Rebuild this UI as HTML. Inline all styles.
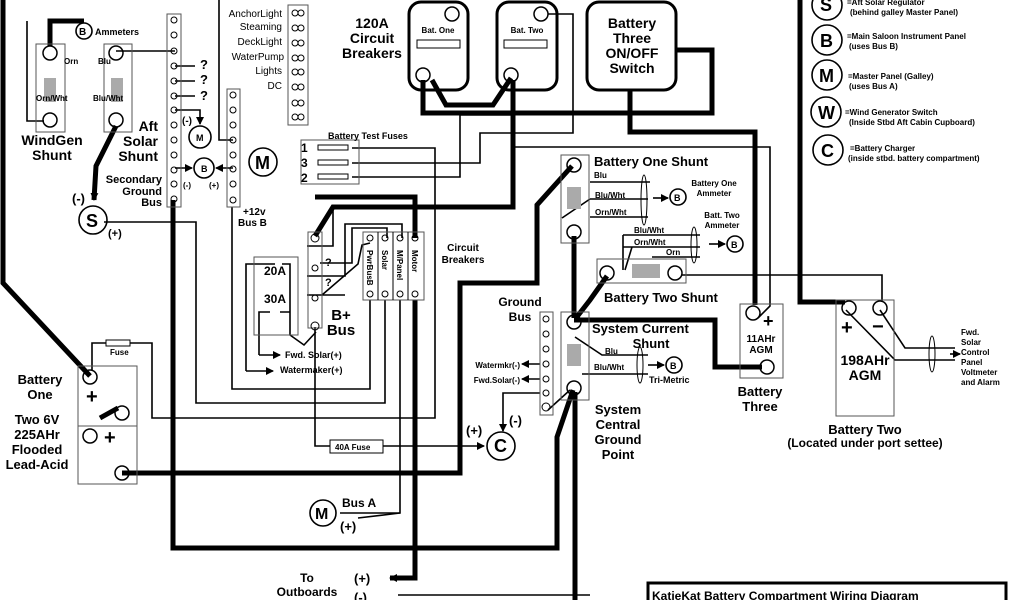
<!DOCTYPE html>
<html><head><meta charset="utf-8"><style>
html,body{margin:0;padding:0;background:#fff;width:1024px;height:600px;overflow:hidden}
svg{display:block}
text{font-family:"Liberation Sans",sans-serif;fill:#000}
.b{font-weight:bold}
</style></head><body>
<svg width="1024" height="600" viewBox="0 0 1024 600" xmlns="http://www.w3.org/2000/svg">
<defs>
<marker id="ar" markerWidth="8" markerHeight="8" refX="7" refY="4" orient="auto" markerUnits="userSpaceOnUse"><path d="M0,0 L8,4 L0,8 z" fill="#000"/></marker>
</defs>
<g fill="none" stroke="#000" stroke-linejoin="miter">
<g stroke-width="5">
<path d="M3,0 L3,283 L90,376"/>
<path d="M50,46 L50,21 L84,21"/>
<path d="M116,126 L96,166 L94,200" marker-end="url(#ar)"/>
<path d="M173,200 L173,548 L557,548 L557,437 L573,390"/>
<path d="M122,473 L460,473 L460,283 L537,283 L537,205 L572,166"/>
<path d="M423,80 L423,113 L712,113 L712,50 L676,50"/>
<path d="M432,80 L446,105 L493,105 L511,78"/>
<path d="M513,80 L513,207 L333,207 L315,236"/>
<path d="M315,197 L415,197 L415,238"/>
<path d="M630,90 L630,132 L755,132 L755,305"/>
<path d="M415,300 L415,578 L390,578" marker-end="url(#ar)"/>
<path d="M574,236 L574,318"/>
<path d="M607,276 L590,300 L576,318"/>
<path d="M574,320 L715,320 L715,367 L762,367"/>
<path d="M575,392 L575,600"/>
<path d="M800,0 L800,302 L845,302"/>
<path d="M100,418 L118,408"/>
</g>
<g stroke-width="1.6">
<path d="M27,21 L27,121 L44,121"/>
<path d="M116,51 L175,51"/>
<path d="M104,222 L196,222 L196,403 L385,403 L385,300"/>
<path d="M232,207 L232,389 L370,389 L370,300"/>
<path d="M400,300 L400,513 L340,513"/>
<path d="M315,327 L315,446 L330,446"/>
<path d="M383,446 L484,446" marker-end="url(#ar)"/>
<path d="M92,370 L92,343 L106,343 M130,343 L152,343 L152,418 L435,418 L435,148 L352,148"/>
<path d="M352,163 L480,163 L480,133 L573,133 L573,14 L548,14"/>
<path d="M352,177 L460,177 L460,115 L513,115"/>
<path d="M512,147 L770,147 L770,306 L758,318"/>
<path d="M219,0 L219,140 L233,140"/>
<path d="M175,110 L200,110 L200,124" marker-end="url(#ar)"/>
<path d="M175,168 L192,168" marker-end="url(#ar)"/>
<path d="M233,168 L216,168" marker-end="url(#ar)"/>
<path d="M175,66 L195,66 M175,81 L195,81 M175,96 L195,96"/>
<path d="M682,275 L882,275 L882,302"/>
<path d="M846,310 L895,360 L955,360 M880,310 L905,348 L955,348"/>
<path d="M950,354 L960,354" marker-end="url(#ar)"/>
<path d="M307,246 L333,246 L333,207 M307,276 L345,276 L345,224 L402,224 L402,238 M307,295 L345,295"/>
<path d="M320,263 L352,263 L352,228 L387,228 L387,238"/>
<path d="M322,295 L358,264 L362,245 L370,243"/>
<path d="M246,371 L246,264 L275,264 M282,264 L290,264 L290,335 L304,345 L316,332"/>
<path d="M259,355 L259,312 L270,312 M280,312 L290,312"/>
<path d="M259,355 L280,355" marker-end="url(#ar)"/>
<path d="M246,371 L273,371" marker-end="url(#ar)"/>
<path d="M540,364 L522,364" marker-end="url(#ar)"/>
<path d="M540,379 L522,379" marker-end="url(#ar)"/>
<path d="M540,393 L503,393 L503,431" marker-end="url(#ar)"/>
<path d="M548,410 L570,390"/>
<path d="M590,182 L650,182 M590,199 L648,199 M590,217 L648,217 M562,218 L590,199"/>
<path d="M623,235 L700,235 M623,247 L700,247 M652,257 L700,257 M623,235 L623,270 M632,247 L625,270"/>
<path d="M653,198 L668,198" marker-end="url(#ar)"/>
<path d="M709,244 L725,244" marker-end="url(#ar)"/>
<path d="M575,337 L602,355 L648,355 M582,374 L648,374"/>
<path d="M648,365 L664,365" marker-end="url(#ar)"/>
<path d="M398,595 L590,595"/>
<path d="M358,518 L400,513"/>
</g>
<g stroke-width="1"><ellipse cx="644" cy="200" rx="3" ry="25"/><ellipse cx="694" cy="245" rx="3" ry="18"/><ellipse cx="640" cy="365" rx="3" ry="18"/><ellipse cx="932" cy="354" rx="3" ry="18"/></g>
<g stroke-width="1" stroke="#555">
<rect x="36" y="44" width="29" height="88"/><rect x="104" y="44" width="28" height="88"/>
<rect x="167" y="14" width="14" height="193"/><rect x="227" y="89" width="13" height="118"/>
<rect x="288" y="5" width="20" height="120"/><rect x="301" y="140" width="58" height="44"/>
<rect x="308" y="232" width="14" height="96"/><rect x="363" y="232" width="61" height="68"/>
<rect x="254" y="257" width="44" height="78"/>
<rect x="78" y="366" width="59" height="118"/><line x1="78" y1="426" x2="137" y2="426"/>
<rect x="561" y="155" width="28" height="88"/><rect x="597" y="259" width="89" height="24"/>
<rect x="540" y="312" width="13" height="103"/><rect x="561" y="312" width="28" height="88"/>
<rect x="740" y="304" width="43" height="74"/><rect x="836" y="300" width="58" height="116"/>
</g>
<g stroke-width="1"><line x1="378" y1="232" x2="378" y2="300"/><line x1="393" y1="232" x2="393" y2="300"/><line x1="408" y1="232" x2="408" y2="300"/>
<rect x="330" y="440" width="53" height="13"/><rect x="106" y="340" width="24" height="6"/>
<rect x="417" y="40" width="43" height="8"/><rect x="504" y="40" width="43" height="8"/></g>
<g stroke-width="3"><rect x="409" y="2" width="59" height="88" rx="12"/><rect x="497" y="2" width="60" height="88" rx="12"/><rect x="587" y="2" width="89" height="88" rx="12"/>
<rect x="648" y="583" width="358" height="20"/></g>
<g fill="#aaa" stroke="none"><rect x="44" y="78" width="12" height="24"/><rect x="111" y="78" width="12" height="24"/><rect x="567" y="187" width="14" height="22"/><rect x="567" y="344" width="14" height="22"/><rect x="632" y="264" width="28" height="14"/></g>
<g stroke-width="1.5">
<circle cx="50" cy="53" r="7"/><circle cx="50" cy="120" r="7"/><circle cx="116" cy="53" r="7"/><circle cx="116" cy="120" r="7"/>
<circle cx="452" cy="14" r="7"/><circle cx="423" cy="75" r="7"/><circle cx="541" cy="14" r="7"/><circle cx="511" cy="75" r="7"/>
<circle cx="90" cy="377" r="7"/><circle cx="122" cy="413" r="7"/><circle cx="90" cy="436" r="7"/><circle cx="122" cy="473" r="7"/>
<circle cx="574" cy="165" r="7"/><circle cx="574" cy="232" r="7"/><circle cx="607" cy="273" r="7"/><circle cx="675" cy="273" r="7"/>
<circle cx="574" cy="322" r="7"/><circle cx="574" cy="388" r="7"/><circle cx="753" cy="313" r="7"/><circle cx="767" cy="367" r="7"/>
<circle cx="849" cy="308" r="7"/><circle cx="880" cy="308" r="7"/>
</g>
<g stroke-width="1.6">
<circle cx="200" cy="137" r="11"/><circle cx="204" cy="168" r="10"/><circle cx="84" cy="31" r="8"/>
<circle cx="93" cy="220" r="14"/><circle cx="263" cy="162" r="14"/><circle cx="501" cy="446" r="14"/><circle cx="323" cy="513" r="13"/>
<circle cx="678" cy="197" r="8"/><circle cx="735" cy="244" r="8"/><circle cx="674" cy="365" r="8"/>
<circle cx="827" cy="5" r="15"/><circle cx="827" cy="40" r="15"/><circle cx="827" cy="75" r="15"/><circle cx="826" cy="112" r="15"/><circle cx="828" cy="150" r="15"/>
</g>
<g stroke-width="1">
<circle cx="174" cy="20" r="3"/><circle cx="174" cy="35" r="3"/><circle cx="174" cy="51" r="3"/><circle cx="174" cy="66" r="3"/><circle cx="174" cy="81" r="3"/><circle cx="174" cy="96" r="3"/><circle cx="174" cy="110" r="3"/><circle cx="174" cy="125" r="3"/><circle cx="174" cy="140" r="3"/><circle cx="174" cy="155" r="3"/><circle cx="174" cy="170" r="3"/><circle cx="174" cy="184" r="3"/><circle cx="174" cy="199" r="3"/>
<circle cx="233" cy="95" r="3"/><circle cx="233" cy="110" r="3"/><circle cx="233" cy="125" r="3"/><circle cx="233" cy="140" r="3"/><circle cx="233" cy="155" r="3"/><circle cx="233" cy="169" r="3"/><circle cx="233" cy="184" r="3"/><circle cx="233" cy="200" r="3"/>
<circle cx="295" cy="13" r="3"/><circle cx="301" cy="13" r="3"/><circle cx="295" cy="28" r="3"/><circle cx="301" cy="28" r="3"/><circle cx="295" cy="43" r="3"/><circle cx="301" cy="43" r="3"/><circle cx="295" cy="58" r="3"/><circle cx="301" cy="58" r="3"/><circle cx="295" cy="72" r="3"/><circle cx="301" cy="72" r="3"/><circle cx="295" cy="87" r="3"/><circle cx="301" cy="87" r="3"/><circle cx="295" cy="103" r="3"/><circle cx="301" cy="103" r="3"/><circle cx="295" cy="117" r="3"/><circle cx="301" cy="117" r="3"/>
<circle cx="315" cy="238" r="4"/><circle cx="315" cy="268" r="3"/><circle cx="315" cy="298" r="3"/><circle cx="315" cy="326" r="4"/>
<circle cx="370" cy="238" r="3"/><circle cx="385" cy="238" r="3"/><circle cx="400" cy="238" r="3"/><circle cx="415" cy="238" r="3"/><circle cx="370" cy="294" r="3"/><circle cx="385" cy="294" r="3"/><circle cx="400" cy="294" r="3"/><circle cx="415" cy="294" r="3"/>
<circle cx="546" cy="319" r="3"/><circle cx="546" cy="334" r="3"/><circle cx="546" cy="349" r="3"/><circle cx="546" cy="364" r="3"/><circle cx="546" cy="379" r="3"/><circle cx="546" cy="393" r="3"/><circle cx="546" cy="407" r="4"/>
<rect x="318" y="145" width="30" height="5"/><rect x="318" y="160" width="30" height="5"/><rect x="318" y="174" width="30" height="5"/>
</g>
</g>
<g class="b">
<text x="52" y="145" font-size="14" text-anchor="middle">WindGen</text><text x="52" y="160" font-size="14" text-anchor="middle">Shunt</text>
<text x="158" y="131" font-size="14" text-anchor="end">Aft</text><text x="158" y="146" font-size="14" text-anchor="end">Solar</text><text x="158" y="161" font-size="14" text-anchor="end">Shunt</text>
<text x="162" y="183" font-size="11" text-anchor="end">Secondary</text><text x="162" y="195" font-size="11" text-anchor="end">Ground</text><text x="162" y="206" font-size="11" text-anchor="end">Bus</text>
<text x="95" y="35" font-size="9">Ammeters</text>
<text x="79" y="35" font-size="10">B</text>
<text x="200" y="69" font-size="13">?</text><text x="200" y="84" font-size="13">?</text><text x="200" y="100" font-size="13">?</text>
<text x="182" y="124" font-size="10">(-)</text><text x="183" y="188" font-size="8">(-)</text><text x="209" y="188" font-size="8">(+)</text>
<text x="196" y="141" font-size="9">M</text><text x="201" y="172" font-size="9">B</text>
<text x="72" y="203" font-size="13">(-)</text><text x="108" y="237" font-size="11">(+)</text><text x="86" y="227" font-size="18">S</text>
<text x="243" y="215" font-size="10">+12v</text><text x="238" y="226" font-size="10">Bus B</text>
<text x="372" y="28" font-size="14" text-anchor="middle">120A</text><text x="372" y="43" font-size="14" text-anchor="middle">Circuit</text><text x="372" y="58" font-size="14" text-anchor="middle">Breakers</text>
<text x="632" y="28" font-size="14" text-anchor="middle">Battery</text><text x="632" y="43" font-size="14" text-anchor="middle">Three</text><text x="632" y="58" font-size="14" text-anchor="middle">ON/OFF</text><text x="632" y="73" font-size="14" text-anchor="middle">Switch</text>
<text x="328" y="139" font-size="9">Battery Test Fuses</text>
<text x="255" y="169" font-size="18">M</text>
<text x="301" y="152" font-size="12">1</text><text x="301" y="167" font-size="12">3</text><text x="301" y="182" font-size="12">2</text>
<text x="463" y="251" font-size="10" text-anchor="middle">Circuit</text><text x="463" y="263" font-size="10" text-anchor="middle">Breakers</text>
<text x="325" y="266" font-size="11">?</text><text x="325" y="286" font-size="11">?</text>
<text x="341" y="320" font-size="15" text-anchor="middle">B+</text><text x="341" y="335" font-size="15" text-anchor="middle">Bus</text>
<text x="275" y="275" font-size="12" text-anchor="middle">20A</text><text x="275" y="303" font-size="12" text-anchor="middle">30A</text>
<text x="285" y="358" font-size="9">Fwd. Solar(+)</text><text x="280" y="373" font-size="9">Watermaker(+)</text>
<text x="520" y="306" font-size="12" text-anchor="middle">Ground</text><text x="520" y="321" font-size="12" text-anchor="middle">Bus</text>
<text x="520" y="368" font-size="8" text-anchor="end">Watermkr(-)</text><text x="520" y="383" font-size="8" text-anchor="end">Fwd.Solar(-)</text>
<text x="494" y="452" font-size="18">C</text><text x="466" y="435" font-size="13">(+)</text><text x="509" y="425" font-size="13">(-)</text>
<text x="335" y="450" font-size="8">40A Fuse</text><text x="110" y="355" font-size="8">Fuse</text>
<text x="40" y="384" font-size="13" text-anchor="middle">Battery</text><text x="40" y="399" font-size="13" text-anchor="middle">One</text>
<text x="37" y="424" font-size="13" text-anchor="middle">Two 6V</text><text x="37" y="439" font-size="13" text-anchor="middle">225AHr</text><text x="37" y="454" font-size="13" text-anchor="middle">Flooded</text><text x="37" y="469" font-size="13" text-anchor="middle">Lead-Acid</text>
<text x="86" y="403" font-size="20">+</text><text x="104" y="444" font-size="20">+</text>
<text x="315" y="519" font-size="16">M</text><text x="342" y="507" font-size="12">Bus A</text><text x="340" y="531" font-size="13">(+)</text>
<text x="307" y="582" font-size="12" text-anchor="middle">To</text><text x="307" y="596" font-size="12" text-anchor="middle">Outboards</text>
<text x="354" y="583" font-size="13">(+)</text><text x="354" y="602" font-size="13">(-)</text>
<text x="594" y="166" font-size="13">Battery One Shunt</text>
<text x="594" y="178" font-size="8">Blu</text><text x="595" y="198" font-size="8">Blu/Wht</text><text x="595" y="215" font-size="8">Orn/Wht</text>
<text x="714" y="186" font-size="8" text-anchor="middle">Battery One</text><text x="714" y="196" font-size="8" text-anchor="middle">Ammeter</text>
<text x="722" y="218" font-size="8" text-anchor="middle">Batt. Two</text><text x="722" y="228" font-size="8" text-anchor="middle">Ammeter</text>
<text x="634" y="233" font-size="8">Blu/Wht</text><text x="634" y="245" font-size="8">Orn/Wht</text><text x="666" y="255" font-size="8">Orn</text>
<text x="674" y="201" font-size="9">B</text><text x="731" y="248" font-size="9">B</text><text x="670" y="369" font-size="9">B</text>
<text x="604" y="302" font-size="13">Battery Two Shunt</text>
<text x="592" y="333" font-size="13">System Current</text><text x="651" y="348" font-size="13" text-anchor="middle">Shunt</text>
<text x="605" y="354" font-size="8">Blu</text><text x="594" y="370" font-size="8">Blu/Wht</text><text x="649" y="383" font-size="9">Tri-Metric</text>
<text x="618" y="414" font-size="13" text-anchor="middle">System</text><text x="618" y="429" font-size="13" text-anchor="middle">Central</text><text x="618" y="444" font-size="13" text-anchor="middle">Ground</text><text x="618" y="459" font-size="13" text-anchor="middle">Point</text>
<text x="761" y="342" font-size="10" text-anchor="middle">11AHr</text><text x="761" y="353" font-size="10" text-anchor="middle">AGM</text><text x="763" y="327" font-size="18">+</text>
<text x="760" y="396" font-size="13" text-anchor="middle">Battery</text><text x="760" y="411" font-size="13" text-anchor="middle">Three</text>
<text x="865" y="365" font-size="14" text-anchor="middle">198AHr</text><text x="865" y="380" font-size="14" text-anchor="middle">AGM</text>
<text x="841" y="334" font-size="20">+</text><text x="872" y="333" font-size="20">−</text>
<text x="865" y="434" font-size="13" text-anchor="middle">Battery Two</text><text x="865" y="447" font-size="12" text-anchor="middle">(Located under port settee)</text>
<text x="961" y="335" font-size="8">Fwd.</text><text x="961" y="345" font-size="8">Solar</text><text x="961" y="355" font-size="8">Control</text><text x="961" y="365" font-size="8">Panel</text><text x="961" y="375" font-size="8">Voltmeter</text><text x="961" y="385" font-size="8">and Alarm</text>
<text x="820" y="11" font-size="18">S</text><text x="820" y="47" font-size="18">B</text><text x="819" y="82" font-size="18">M</text><text x="818" y="119" font-size="18">W</text><text x="821" y="157" font-size="18">C</text>
<text x="652" y="600" font-size="12">KatieKat Battery Compartment Wiring Diagram</text>
</g>
<g font-size="8" font-weight="bold">
<text x="847" y="5">=Aft Solar Regulator</text><text x="850" y="15">(behind galley Master Panel)</text>
<text x="847" y="39">=Main Saloon Instrument Panel</text><text x="849" y="49">(uses Bus B)</text>
<text x="848" y="79">=Master Panel (Galley)</text><text x="849" y="89">(uses Bus A)</text>
<text x="845" y="115">=Wind Generator Switch</text><text x="849" y="125">(Inside Stbd Aft Cabin Cupboard)</text>
<text x="850" y="151">=Battery Charger</text><text x="848" y="161">(inside stbd. battery compartment)</text>
<text x="438" y="33" text-anchor="middle">Bat. One</text><text x="527" y="33" text-anchor="middle">Bat. Two</text>
<text x="64" y="64">Orn</text><text x="98" y="64">Blu</text><text x="36" y="101">Orn/Wht</text><text x="93" y="101">Blu/Wht</text>
</g>
<g font-size="10">
<text x="282" y="17" text-anchor="end">AnchorLight</text><text x="282" y="30" text-anchor="end">Steaming</text><text x="282" y="45" text-anchor="end">DeckLight</text><text x="284" y="60" text-anchor="end">WaterPump</text><text x="282" y="74" text-anchor="end">Lights</text><text x="282" y="89" text-anchor="end">DC</text>
</g>
<g font-size="8" font-weight="bold">
<text transform="translate(367,250) rotate(90)">PwrBusB</text><text transform="translate(382,250) rotate(90)">Solar</text><text transform="translate(397,250) rotate(90)">M/Panel</text><text transform="translate(412,250) rotate(90)">Motor</text>
</g>
</svg>
</body></html>
